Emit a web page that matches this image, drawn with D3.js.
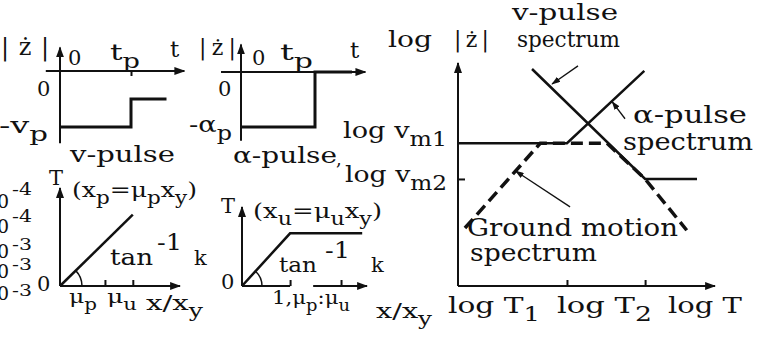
<!DOCTYPE html>
<html>
<head>
<meta charset="utf-8">
<script src="https://cdn.jsdelivr.net/npm/d3@7"></script>
<style>
  body { margin: 0; background: #fff; }
  svg text { font-family: "DejaVu Serif", "Liberation Serif", serif; fill: #111; }
</style>
</head>
<body>
<div id="chart"></div>
<script>
const svgWidth = 764;
const svgHeight = 337;
const ink = "#111";

// pulse shapes, time in units of tp, amplitude in units of vp / ap
const vPulseT = [0, 1, 1, 1.5];
const vPulseZ = [-1, -1, -0.5, -0.5];
const aPulseT = [0, 1, 1, 1.5];
const aPulseZ = [-1, -1, 0, 0];

// period T against x/xy
const vLineX = [0, 1.62];
const vLineT = [0, 1.6];
const vTicks = [1, 1.62];
const aLineX = [0, 1, 2.5];
const aLineT = [0, 1, 1];
const aTicks = [1, 2.06];

// log-log spectra (log units, 0..100)
const vSpecX = [28.8, 72.8, 93];
const vSpecY = [97.3, 48, 48];
const aSpecX = [0, 42.4, 72.5];
const aSpecY = [64, 64, 96.5];
const gSpecX = [2.7, 32, 58, 72.8, 89];
const gSpecY = [26, 64, 64, 48, 25];
const logTTicks = [42.4, 72.8];
const logVTicks = [48];

// exponents left over at the cropped left edge
const edgeExp = ["-4", "-4", "-3", "-3", "-3"];
const edgeY = [208, 233, 258, 278, 300];
const edgeSupY = [195, 222, 250, 270, 296];

const svg = d3.select("#chart").append("svg")
  .attr("width", svgWidth).attr("height", svgHeight)
  .style("background", "#fff");

const defs = svg.append("defs");
defs.append("marker").attr("id", "arr")
  .attr("viewBox", "0 0 10 10").attr("refX", 9).attr("refY", 5)
  .attr("markerWidth", 11).attr("markerHeight", 8).attr("markerUnits", "userSpaceOnUse")
  .attr("orient", "auto").attr("preserveAspectRatio", "none")
  .append("path").attr("d", "M0,0L10,5L0,10Z").attr("fill", ink);
defs.append("marker").attr("id", "ptr")
  .attr("viewBox", "0 0 10 10").attr("refX", 9).attr("refY", 5)
  .attr("markerWidth", 9).attr("markerHeight", 6).attr("markerUnits", "userSpaceOnUse")
  .attr("orient", "auto").attr("preserveAspectRatio", "none")
  .append("path").attr("d", "M0,0L10,5L0,10Z").attr("fill", ink);

function arrowLine(x1, y1, x2, y2, head) {
  svg.append("line")
    .attr("x1", x1).attr("y1", y1).attr("x2", x2).attr("y2", y2)
    .attr("stroke", ink).attr("stroke-width", head === "ptr" ? 1.3 : 2)
    .attr("marker-end", head === null ? null : `url(#${head || "arr"})`);
}

function curve(x, y, xs, ys, w, dash) {
  svg.append("path")
    .datum(xs.map((v, i) => [v, ys[i]]))
    .attr("d", d3.line().x(d => x(d[0])).y(d => y(d[1])))
    .attr("fill", "none").attr("stroke", ink).attr("stroke-width", w)
    .attr("stroke-dasharray", dash || null);
}

function ticks(axis, tx, ty) {
  svg.append("g").attr("transform", `translate(${tx},${ty})`)
    .call(axis.tickFormat(""))
    .call(g => g.select(".domain").remove())
    .call(g => g.selectAll("line").attr("stroke", ink).attr("stroke-width", 2));
}

function angleArc(x, y, xs, ys, r) {
  const px = x(xs[1]) - x(0), py = y(ys[1]) - y(0);
  const a = Math.atan2(py, px);
  const p = d3.path();
  p.moveTo(x(0) + r * Math.cos(a), y(0) + r * Math.sin(a));
  p.arc(x(0), y(0), r, a, 0, false);
  svg.append("path").attr("d", p.toString()).attr("fill", "none")
    .attr("stroke", ink).attr("stroke-width", 1.5);
}

function label(x, y, parts, size, width, adjust) {
  const t = svg.append("text").attr("x", x).attr("y", y).style("font-size", size + "px");
  if (width) t.attr("textLength", width).attr("lengthAdjust", adjust || "spacingAndGlyphs");
  let cur = 0;
  parts.forEach(p => {
    const s = typeof p === "string" ? p : p[0];
    const k = typeof p === "string" ? "" : p[1];
    const off = k === "sub" ? size * 0.35 : k === "sup" ? -size * 0.45 : 0;
    t.append("tspan").attr("dy", off - cur)
      .style("font-size", k ? Math.round(size * 0.85) + "px" : null).text(s);
    cur = off;
  });
}

// ---- v-pulse
const x1 = d3.scaleLinear().domain([0, 1]).range([60, 131]);
const y1 = d3.scaleLinear().domain([0, -1]).range([71, 127]);
arrowLine(x1(-0.2), y1(0), x1(1.75), y1(0));
arrowLine(x1(0), y1(-1.29), x1(0), y1(0.42));
ticks(d3.axisBottom(x1).tickValues([1]).tickSize(5).tickSizeOuter(0), 0, y1(0));
curve(x1, y1, vPulseT, vPulseZ, 3);
label(1, 55, ["|ż|"], 24, 48, "spacing");
label(68, 65, ["0"], 21);
label(110, 60, ["t", ["p", "sub"]], 23, 30);
label(170, 57, ["t"], 23);
label(37, 96, ["0"], 21);
label(-1, 133, ["-v", ["p", "sub"]], 23, 49);
label(70, 162, ["v-pulse"], 23, 105);

// ---- alpha-pulse
const x2 = d3.scaleLinear().domain([0, 1]).range([241, 315]);
const y2 = d3.scaleLinear().domain([0, -1]).range([72, 127]);
arrowLine(x2(-0.27), y2(0), x2(1.68), y2(0));
arrowLine(x2(0), y2(-1.25), x2(0), y2(0.5));
curve(x2, y2, aPulseT, aPulseZ, 3);
label(199, 55, ["|ż|"], 22, 37, "spacing");
label(252, 65, ["0"], 21);
label(280, 60, ["t", ["p", "sub"]], 23, 33);
label(350, 58, ["t"], 23);
label(218, 96, ["0"], 21);
label(189, 132, ["-α", ["p", "sub"]], 23, 43);
label(233, 163, ["α-pulse"], 23, 104);
label(336, 165, [","], 18);

// ---- T vs x/xy, v-pulse
const x3 = d3.scaleLinear().domain([0, 2.67]).range([60, 180]);
const y3 = d3.scaleLinear().domain([0, 2.2]).range([286, 188]);
arrowLine(x3(0), y3(0), x3(2.67), y3(0));
arrowLine(x3(0), y3(0), x3(0), y3(2.2));
ticks(d3.axisBottom(x3).tickValues(vTicks).tickSize(-6).tickSizeOuter(0), 0, y3(0));
curve(x3, y3, vLineX, vLineT, 2.5);
angleArc(x3, y3, vLineX, vLineT, 22);
edgeExp.forEach((e, i) => {
  label(-3, edgeY[i], ["0"], 19);
  label(12, edgeSupY[i], [e], 16, 20);
});
label(49, 185, ["T"], 21);
label(72, 197, ["(x", ["p", "sub"], "=μ", ["p", "sub"], "x", ["y", "sub"], ")"], 21, 125);
label(110, 265, ["tan"], 23, 43);
label(157, 250, ["-1"], 23, 25);
label(194, 265, ["k"], 21);
label(37, 291, ["0"], 21);
label(69, 303, ["μ", ["p", "sub"]], 19, 28);
label(107, 303, ["μ", ["u", "sub"]], 19, 30);
label(146, 310, ["x/x", ["y", "sub"]], 21, 57);

// ---- T vs x/xy, alpha-pulse
const x4 = d3.scaleLinear().domain([0, 2.6]).range([242, 367]);
const y4 = d3.scaleLinear().domain([0, 1.5]).range([286, 207]);
arrowLine(x4(0), y4(0), x4(1), y4(0), null);
arrowLine(x4(1.48), y4(0), x4(2.6), y4(0));
arrowLine(x4(0), y4(0), x4(0), y4(1.5));
ticks(d3.axisBottom(x4).tickValues(aTicks).tickSize(-6).tickSizeOuter(0), 0, y4(0));
curve(x4, y4, aLineX, aLineT, 2.5);
angleArc(x4, y4, aLineX, aLineT, 20);
label(221, 213, ["T"], 21);
label(253, 218, ["(x", ["u", "sub"], "=μ", ["u", "sub"], "x", ["y", "sub"], ")"], 21, 129);
label(279, 272, ["tan"], 21, 38);
label(325, 258, ["-1"], 23, 25);
label(371, 272, ["k"], 21);
label(221, 289, ["0"], 21);
label(272, 304, ["1,μ", ["p", "sub"], ":μ", ["u", "sub"]], 19, 78);
label(376, 318, ["x/x", ["y", "sub"]], 21, 56);

// ---- log-log spectra
const x5 = d3.scaleLinear().domain([0, 100]).range([458, 715]);
const y5 = d3.scaleLinear().domain([0, 100]).range([286, 63]);
arrowLine(x5(0), y5(0), x5(100), y5(0));
arrowLine(x5(0), y5(0), x5(0), y5(100));
ticks(d3.axisBottom(x5).tickValues(logTTicks).tickSize(-6).tickSizeOuter(0), 0, y5(0));
ticks(d3.axisLeft(y5).tickValues(logVTicks).tickSize(-7).tickSizeOuter(0), x5(0), 0);
curve(x5, y5, vSpecX, vSpecY, 2.5);
curve(x5, y5, aSpecX, aSpecY, 2.5);
curve(x5, y5, gSpecX, gSpecY, 3.5, "12,6");

// pointers to the curves
arrowLine(x5(46.7), y5(98.7), x5(36.6), y5(90.6), "ptr");
arrowLine(x5(65), y5(75), x5(60), y5(82.6), "ptr");
arrowLine(x5(43.6), y5(35.5), x5(22.4), y5(51.6), "ptr");

label(388, 47, ["log"], 23, 44);
label(454, 47, ["|ż|"], 22, 35, "spacing");
label(512, 20, ["v-pulse"], 23, 106);
label(517, 47, ["spectrum"], 23, 103);
label(343, 138, ["log v", ["m1", "sub"]], 23, 104);
label(345, 182, ["log v", ["m2", "sub"]], 23, 102);
label(633, 123, ["α-pulse"], 24, 114);
label(623, 150, ["spectrum"], 24, 130);
label(467, 236, ["Ground motion"], 25, 211);
label(470, 261, ["spectrum"], 25, 127);
label(448, 313, ["log T", ["1", "sub"]], 23, 92);
label(557, 313, ["log T", ["2", "sub"]], 23, 95);
label(668, 313, ["log T"], 23, 74);
</script>
</body>
</html>
